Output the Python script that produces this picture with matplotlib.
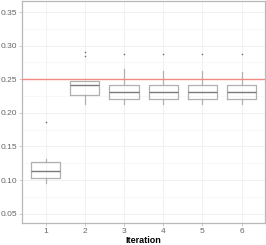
import matplotlib
matplotlib.use("Agg")
import matplotlib.pyplot as plt
from matplotlib.ticker import MultipleLocator

plt.rcParams['font.family'] = ['Liberation Sans Narrow', 'Liberation Sans', 'DejaVu Sans']

iterations = ["1", "2", "3", "4", "5", "6"]
whislo = [0.095, 0.2125, 0.2125, 0.2125, 0.2125, 0.2125]
q1 = [0.1024, 0.226, 0.220, 0.220, 0.220, 0.220]
med = [0.1134, 0.241, 0.231, 0.231, 0.231, 0.231]
q3 = [0.1273, 0.2476, 0.2416, 0.2416, 0.2416, 0.2416]
whishi = [0.132, 0.2476, 0.2645, 0.262, 0.2627, 0.2607]
outliers = [[0.1866], [0.2909, 0.2845], [0.2877], [0.2877], [0.2877], [0.2877]]
threshold = 0.25

fig = plt.figure(figsize=(2.66, 2.45), dpi=100)
ax = fig.add_axes([0.0827, 0.091, 0.9143, 0.905])

stats = []
for i, lab in enumerate(iterations):
    stats.append(dict(label=lab, whislo=whislo[i], q1=q1[i], med=med[i],
                      q3=q3[i], whishi=whishi[i], fliers=outliers[i]))
positions = list(range(1, len(iterations) + 1))
box_color = '#b0b0b0'
ax.bxp(stats, positions=positions, widths=0.75, showcaps=False,
       boxprops=dict(color=box_color, linewidth=0.9),
       whiskerprops=dict(color=box_color, linewidth=0.9),
       medianprops=dict(color='#7a7a7a', linewidth=1.0),
       flierprops=dict(marker='o', markersize=0.8, markerfacecolor='#666666',
                       markeredgecolor='#666666', markeredgewidth=0.3),
       zorder=3)

ax.axhline(threshold, color='#f28a84', linewidth=1.0, zorder=4)

ax.set_xlim(0.4, 6.6)
ax.set_ylim(0.0366, 0.3664)
ax.yaxis.set_minor_locator(MultipleLocator(0.025))
ax.set_yticks([0.05, 0.10, 0.15, 0.20, 0.25, 0.30, 0.35])
ax.set_yticklabels(['0.05', '0.10', '0.15', '0.20', '0.25', '0.30', '0.35'])
ax.set_xticks(positions)
ax.set_xticklabels(iterations)

ax.grid(True, which='major', color='#efefef', linewidth=0.6, zorder=0)
ax.grid(True, which='minor', axis='y', color='#f6f6f6', linewidth=0.5, zorder=0)
ax.set_axisbelow(True)

for s in ax.spines.values():
    s.set_color('#b8b8b8')
    s.set_linewidth(0.9)

ax.tick_params(axis='both', which='major', length=2, width=0.5, color='#b8b8b8',
               labelsize=6, labelcolor='#666666', pad=1.5)
ax.tick_params(axis='both', which='minor', length=0)
ax.set_xlabel('Iteration', fontsize=6.5, fontweight='bold', color='black', labelpad=1)

fig.savefig('out.png', dpi=100)
